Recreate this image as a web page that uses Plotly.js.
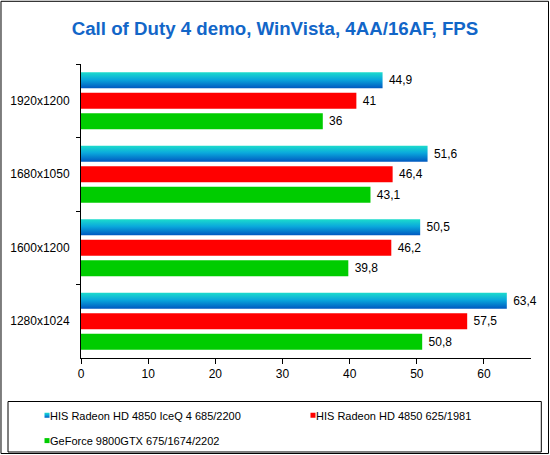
<!DOCTYPE html>
<html>
<head>
<meta charset="utf-8">
<script src="https://cdn.plot.ly/plotly-3.0.1.min.js"></script>
<style>
  html, body { margin: 0; padding: 0; background: #ffffff; }
  #chart { width: 550px; height: 455px; }
</style>
</head>
<body>
<div id="chart"></div>
<script>
const categories = ['1920x1200', '1680x1050', '1600x1200', '1280x1024'];
const seriesNames = ['HIS Radeon HD 4850 IceQ 4 685/2200', 'HIS Radeon HD 4850 625/1981', 'GeForce 9800GTX 675/1674/2202'];
const iceqValues = [44.9, 51.6, 50.5, 63.4];
const radeonValues = [41, 46.4, 46.2, 57.5];
const geforceValues = [36, 43.1, 39.8, 50.8];
const xTickValues = [0, 10, 20, 30, 40, 50, 60];

const FONT = 'Liberation Sans, Arial, sans-serif';
const fmt = v => '\u00a0' + String(v).replace('.', ',');

function barTrace(name, values, color, legendId) {
  return {
    type: 'bar',
    orientation: 'h',
    name: name,
    y: categories,
    x: values,
    text: values.map(fmt),
    textposition: 'outside',
    cliponaxis: false,
    textfont: { family: FONT, size: 12, color: '#000000' },
    marker: { color: color, line: { width: 0 } },
    legend: legendId,
    hoverinfo: 'skip'
  };
}

const data = [
  barTrace(seriesNames[0], iceqValues, '#0a9ad8', 'legend'),
  barTrace(seriesNames[1], radeonValues, '#ff0000', 'legend2'),
  barTrace(seriesNames[2], geforceValues, '#00cc00', 'legend3')
];

const legendBase = {
  orientation: 'h',
  xref: 'container',
  yref: 'container',
  xanchor: 'left',
  yanchor: 'top',
  font: { family: FONT, size: 11, color: '#000000' },
  bgcolor: 'rgba(0,0,0,0)',
  borderwidth: 0
};

const layout = {
  width: 550,
  height: 455,
  margin: { l: 81, r: 19, t: 64, b: 97, pad: 0, autoexpand: false },
  paper_bgcolor: '#ffffff',
  plot_bgcolor: '#ffffff',
  barmode: 'group',
  bargap: 0.163,
  bargroupgap: 0.22,
  title: {
    text: 'Call of Duty 4 demo, WinVista, 4AA/16AF, FPS',
    font: { family: FONT, size: 18.7, color: '#1266c8', weight: 'bold' },
    x: 0.5, xanchor: 'center', xref: 'container',
    y: 0.9385, yanchor: 'middle', yref: 'container'
  },
  xaxis: {
    range: [0, 67],
    tickmode: 'array',
    tickvals: xTickValues,
    ticktext: xTickValues.map(String),
    ticks: 'outside', ticklen: 5, tickcolor: '#000000', tickwidth: 1,
    showline: true, linecolor: '#000000', linewidth: 1,
    showgrid: false, zeroline: false,
    tickfont: { family: FONT, size: 12, color: '#000000' },
    fixedrange: true
  },
  yaxis: {
    type: 'category',
    categoryorder: 'array',
    categoryarray: categories,
    autorange: 'reversed',
    ticks: 'outside', tickson: 'boundaries', ticklen: 4, tickcolor: '#000000', tickwidth: 1,
    showline: true, linecolor: '#000000', linewidth: 1,
    showgrid: false, zeroline: false,
    ticklabelstandoff: 8,
    tickfont: { family: FONT, size: 12, color: '#000000' },
    fixedrange: true
  },
  legend: Object.assign({}, legendBase, { x: 0.0182, y: 0.119 }),
  legend2: Object.assign({}, legendBase, { x: 0.5018, y: 0.119 }),
  legend3: Object.assign({}, legendBase, { x: 0.0182, y: 0.0635 }),
  showlegend: true,
  shapes: [
    { type: 'rect', xref: 'paper', yref: 'paper', x0: -0.1778, x1: 1.0389, y0: -0.3248, y1: 1.2133,
      line: { color: '#000000', width: 1 }, fillcolor: 'rgba(0,0,0,0)' },
    { type: 'rect', xref: 'paper', yref: 'paper', x0: -0.1622, x1: 1.0229, y0: -0.3197, y1: -0.148,
      line: { color: '#000000', width: 1 }, fillcolor: 'rgba(0,0,0,0)' }
  ]
};

Plotly.newPlot('chart', data, layout, { staticPlot: true, displayModeBar: false }).then(function (gd) {
  const svg = gd.querySelector('svg.main-svg');
  const ns = 'http://www.w3.org/2000/svg';
  let defs = svg.querySelector('defs');
  if (!defs) { defs = document.createElementNS(ns, 'defs'); svg.insertBefore(defs, svg.firstChild); }
  const grad = document.createElementNS(ns, 'linearGradient');
  grad.setAttribute('id', 'iceqGrad');
  grad.setAttribute('x1', '0'); grad.setAttribute('y1', '0');
  grad.setAttribute('x2', '0'); grad.setAttribute('y2', '1');
  [['0', '#1cdccc'], ['0.45', '#0aa8dc'], ['1', '#0058c0']].forEach(function (s) {
    const st = document.createElementNS(ns, 'stop');
    st.setAttribute('offset', s[0]);
    st.setAttribute('stop-color', s[1]);
    grad.appendChild(st);
  });
  defs.appendChild(grad);

  const barTraces = gd.querySelectorAll('.barlayer .trace');
  if (barTraces[0]) {
    barTraces[0].querySelectorAll('path').forEach(function (p) { p.style.fill = 'url(#iceqGrad)'; });
  }
  document.querySelectorAll('.legendpoints path').forEach(function (p) {
    p.setAttribute('d', 'M2.5,2.5H-2.5V-2.5H2.5Z');
    p.setAttribute('transform', 'translate(37,0)');
  });
  const firstLegendTrace = document.querySelector('g.legend .traces .legendpoints path');
  if (firstLegendTrace) firstLegendTrace.style.fill = 'url(#iceqGrad)';
});
</script>
</body>
</html>
